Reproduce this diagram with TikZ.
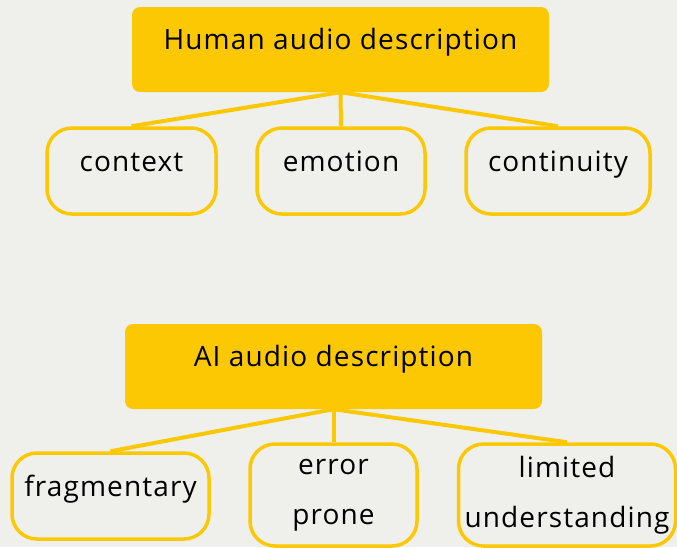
\documentclass[tikz,border=0pt]{standalone}
\usepackage{fontspec}
\setmainfont[LetterSpace=4]{Open Sans}
\begin{document}
\begin{tikzpicture}[x=1pt, y=-1pt,
    every node/.style={font=\fontsize{28}{34}\selectfont, text=black},
    headbox/.style={fill=gold, rounded corners=8pt, minimum width=417pt, minimum height=85pt, text height=11pt, text depth=11pt},
    leafbox/.style={draw=gold, line width=3.5pt, fill=paper, rounded corners=25pt, minimum height=86pt, text height=11pt, text depth=11pt},
    leaftwo/.style={draw=gold, line width=3.5pt, fill=paper, rounded corners=25pt, minimum height=102pt, align=center},
    branch/.style={draw=gold, line width=4pt}]
        \definecolor{gold}{RGB}{252,200,4}
        \definecolor{paper}{RGB}{239,240,235}
        \fill[paper] (0,0) rectangle (677,547);
        \useasboundingbox (0,0) rectangle (677,547);
        % human
        \node[headbox] (human) at (340.5,49.5) {Human audio description};
        \node[leafbox, minimum width=169pt] (context) at (131.5,171) {context};
        \node[leafbox, minimum width=168pt] (emotion) at (341,171) {emotion};
        \node[leafbox, minimum width=184pt] (continuity) at (558,171) {continuity};
        \draw[branch] (human.south) -- (context.north);
        \draw[branch] (human.south) -- (emotion.north);
        \draw[branch] (human.south) -- (continuity.north);
        % ai
        \node[headbox] (ai) at (333.5,366.5) {AI audio description};
        \node[leafbox, minimum width=197pt] (fragmentary) at (110.5,496) {fragmentary};
        \node[leaftwo, minimum width=167pt] (error) at (333.5,495) {error\\[16pt]prone};
        \node[leaftwo, minimum width=217pt] (limited) at (567,495) {limited\\[16pt]understanding};
        \draw[branch] (ai.south) -- (fragmentary.north);
        \draw[branch] (ai.south) -- (error.north);
        \draw[branch] (ai.south) -- (limited.north);
\end{tikzpicture}
\end{document}
